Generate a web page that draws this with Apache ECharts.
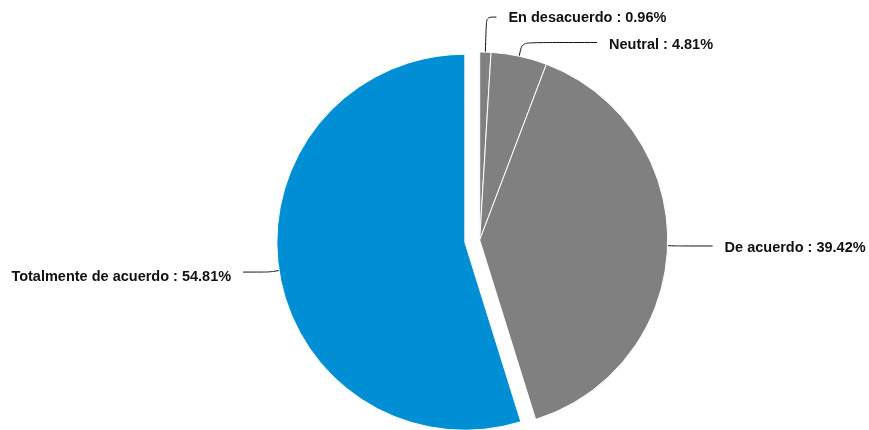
<!DOCTYPE html>
<html>
<head>
<meta charset="utf-8">
<script src="https://cdn.jsdelivr.net/npm/echarts@6/dist/echarts.min.js"></script>
<style>
  html, body { margin: 0; padding: 0; background: #fff; }
  #grafico { width: 869px; height: 430px; }
</style>
</head>
<body>
<div id="grafico"></div>
<script>
var categorias = ['En desacuerdo', 'Neutral', 'De acuerdo', 'Totalmente de acuerdo'];
var porcentajes = [0.96, 4.81, 39.42, 54.81];
var colores = ['#808080', '#808080', '#808080', '#008fd5'];

var myChart = echarts.init(document.getElementById('grafico'));

// largos de linea por rebanada (para acercarse al original)
var lineas = [
    {length: 35, length2: 10},
    {length: 14, length2: 75},
    {length: 10, length2: 35},
    {length: 10, length2: 26}
];
// pequeño corrimiento vertical de etiquetas
var desplazaY = [1, 3, 2, 5];

var datos = categorias.map(function (nombre, i) {
    return {
        name: nombre,
        value: porcentajes[i],
        selected: i === 3,
        itemStyle: {color: colores[i]},
        labelLine: lineas[i]
    };
});

option = {
    animation: false,
    series: [
        {
            type: 'pie',
            center: ['55.2%', 240],
            radius: 188,
            startAngle: 90,
            selectedMode: 'single',
            selectedOffset: 15,
            itemStyle: {
                borderColor: '#fff',
                borderWidth: 1
            },
            label: {
                show: true,
                overflow: 'none',
                formatter: function (p) {
                    return p.name + ' : ' + p.value.toFixed(2) + '%';
                },
                fontFamily: 'Liberation Sans, Arial, sans-serif',
                fontWeight: 'bold',
                fontSize: 14.5,
                color: '#111',
                distanceToLabelLine: 12
            },
            labelLine: {
                smooth: true,
                lineStyle: {color: '#111', width: 1}
            },
            labelLayout: function (params) {
                return {dy: desplazaY[params.dataIndex]};
            },
            data: datos
        }
    ]
};

myChart.setOption(option);
</script>
</body>
</html>
